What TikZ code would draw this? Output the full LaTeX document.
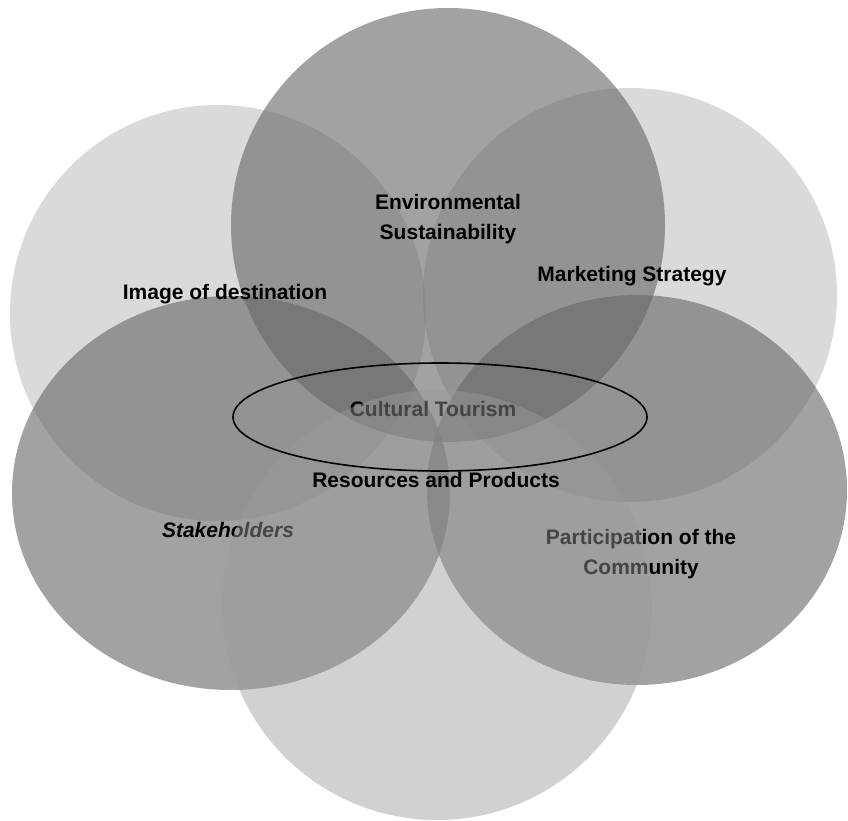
\documentclass[tikz,border=0pt]{standalone}
\usepackage{fontspec}
\usetikzlibrary{shapes.geometric}
\setmainfont{Liberation Sans}
\definecolor{darkfill}{gray}{0.41}
\definecolor{lightfill}{gray}{0.65}
\definecolor{bottomfill}{gray}{0.6}
\begin{document}
\begin{tikzpicture}[x=1pt,y=-1pt,
  lightpetal/.style={fill=lightfill,fill opacity=0.42,draw=none},
  darkpetal/.style={fill=darkfill,fill opacity=0.62,draw=none},
  bottompetal/.style={fill=bottomfill,fill opacity=0.45,draw=none},
  lbl/.style={font=\fontsize{21}{30}\selectfont\bfseries,align=center,text=black,inner sep=0pt},
  coreellipse/.style={draw=black,line width=1.6pt,fill=none,ellipse,inner sep=0pt,
    minimum width=414pt,minimum height=108pt}]
\useasboundingbox (0,0) rectangle (848,821);
% upper light petals
\path[lightpetal] (218,313) circle[radius=208];
\path[lightpetal] (630,295) circle[radius=207];
% top dark petal
\path[darkpetal] (448,225) circle[radius=217];
% lower dark petals
\path[darkpetal] (231,493) ellipse[x radius=219,y radius=197];
\path[darkpetal] (637,490) ellipse[x radius=210,y radius=195];
% labels beneath the bottom petal
\node[lbl] (env) at (448,219) {Environmental\\Sustainability};
\node[lbl] (mkt) at (632,276) {Marketing Strategy};
\node[lbl] (img) at (225,294) {Image of destination};
\node[lbl] (stk) at (228,530) {\itshape Stakeholders};
\node[lbl] (par) at (641,554) {Participation of the\\Community};
\node[lbl] (cul) at (433,409) {Cultural Tourism};
% bottom light petal
\path[bottompetal] (437,605) circle[radius=215];
% labels on top
\node[lbl] (res) at (436,480) {Resources and Products};
\node[coreellipse] (core) at (440,417) {};
\end{tikzpicture}
\end{document}
